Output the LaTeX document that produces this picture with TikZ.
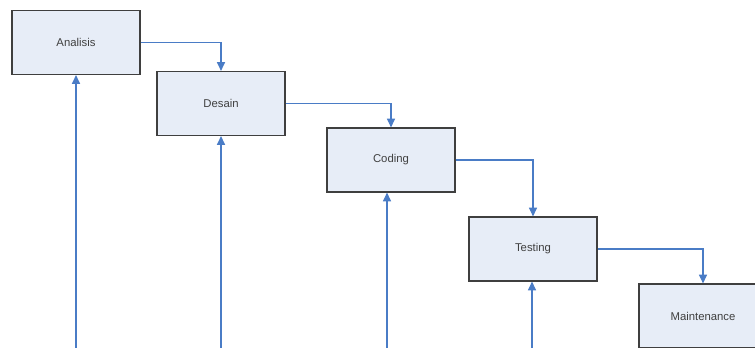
\documentclass[tikz,border=0pt]{standalone}
\usepackage{fontspec}
\setmainfont{Liberation Sans}
\usetikzlibrary{arrows.meta}
\definecolor{boxfill}{HTML}{E7EDF7}
\definecolor{boxline}{HTML}{3F3F3F}
\definecolor{arrowblue}{HTML}{4A7CC6}
\definecolor{txtgray}{HTML}{404040}
\begin{document}
\begin{tikzpicture}[x=0.75pt,y=-0.75pt,
  stage/.style={draw=boxline,fill=boxfill,line width=0.9pt,minimum width=96pt,minimum height=48pt,inner sep=0pt,
    font=\fontsize{8.5}{10}\selectfont,text=txtgray},
  flow/.style={draw=arrowblue,line width=0.8pt,-{Triangle[width=6pt,length=6.5pt]}}]
\useasboundingbox (0,0) rectangle (755,348);
\node[stage] (A) at (76,42.5) {Analisis};
\node[stage] (D) at (221,103.5) {Desain};
\node[stage] (C) at (391,160) {Coding};
\node[stage] (T) at (533,249) {Testing};
\node[stage] (M) at (703,316) {Maintenance};
\coordinate (bA) at (76,348);
\coordinate (bD) at (221,348);
\coordinate (bC) at (387,348);
\coordinate (bT) at (532,348);
\draw[flow] (A.east) -| (D.north);
\draw[flow] (D.east) -| (C.north);
\draw[flow] (C.east) -| (T.north);
\draw[flow] (T.east) -| (M.north);
\draw[flow] (bA) -- (bA |- A.south);
\draw[flow] (bD) -- (bD |- D.south);
\draw[flow] (bC) -- (bC |- C.south);
\draw[flow] (bT) -- (bT |- T.south);
\end{tikzpicture}
\end{document}
